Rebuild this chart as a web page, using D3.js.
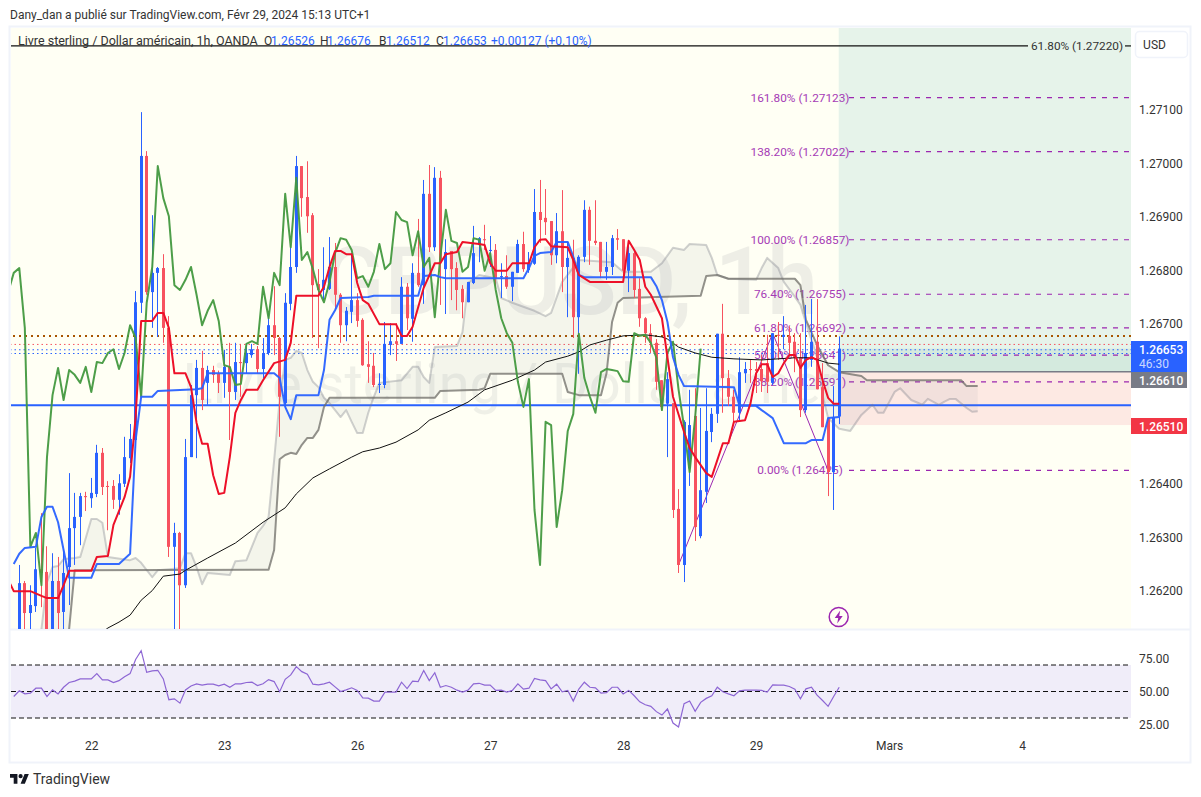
<!DOCTYPE html>
<html><head><meta charset="utf-8">
<style>html,body{margin:0;padding:0;background:#fff}svg{display:block}text{font-family:Roboto,"Open Sans",sans-serif}</style>
<script src="https://cdnjs.cloudflare.com/ajax/libs/d3/7.8.5/d3.min.js"></script>
</head><body><svg id="c" width="1201" height="797"></svg>
<script>
// All series are in points (0.00001) above 1.26000. First candle is bar -13; bar 0 is the 22nd at 00:00.
const firstBar=-13;
const opens=[100,214,158,171,240,235,100,218,160,244,
317,338,377,373,381,458,396,396,370,400,
448,482,739,1014,759,795,804,692,282,308,
210,450,566,617,589,613,606,589,619,572,
628,626,641,652,615,645,697,673,551,737,
806,995,937,903,774,763,765,806,754,697,
722,744,707,624,621,585,585,660,667,662,
769,709,795,772,943,843,973,802,836,804,
765,740,776,847,858,836,838,787,789,769,
795,849,800,812,909,898,892,828,873,806,
823,712,825,913,855,853,797,806,860,858,
799,832,765,710,682,664,594,550,551,353,
248,429,527,302,385,497,531,681,598,563,
533,607,615,615,615,626,589,679,675,677,
666,637,538,632,666,581,523,422,526];
const highs=[248,218,210,280,345,283,270,263,278,420,
383,383,385,411,473,467,405,407,418,488,
512,761,1096,1023,903,806,830,714,327,310,
484,585,632,649,621,621,612,651,664,664,
662,662,662,658,673,720,770,675,757,849,
1014,995,1004,907,802,843,862,851,757,731,
832,757,710,667,645,607,703,701,701,787,
776,813,896,969,997,993,986,858,836,815,
772,778,883,862,885,864,849,813,828,797,
857,872,834,952,969,952,892,907,950,853,
857,828,931,919,931,853,853,866,877,858,
855,834,785,712,699,671,594,609,551,390,
519,576,579,542,579,542,681,737,613,576,
637,628,632,628,641,679,682,703,714,695,
682,682,735,746,746,626,523,583,676];
const lows=[100,100,100,160,169,100,100,100,100,173,
248,285,349,355,375,379,313,353,342,394,
439,467,720,754,692,675,664,263,100,100,
205,450,448,538,548,589,570,561,482,557,
563,607,636,607,598,641,641,488,540,725,
795,900,870,673,654,744,763,725,664,667,
701,694,621,589,581,570,579,641,630,662,
688,666,769,737,834,836,735,718,744,725,
710,740,774,815,838,806,767,748,765,742,
795,797,795,810,851,866,810,813,759,712,
673,606,815,810,847,785,782,791,838,782,
759,748,694,664,645,576,538,450,336,233,
216,396,293,298,364,478,514,533,546,516,
519,589,589,570,572,570,585,632,652,639,
609,525,533,619,577,506,377,351,512];
const closes=[214,158,173,240,233,100,218,158,233,317,
338,377,375,383,458,394,394,370,401,450,
484,740,1014,759,795,804,692,282,308,210,
450,566,617,557,613,604,589,619,572,628,
626,645,652,615,645,697,673,563,739,806,
995,935,901,772,763,782,806,754,697,724,
744,705,622,619,585,587,662,667,662,769,
710,795,772,943,843,973,819,834,802,763,
740,778,832,860,857,838,785,789,769,797,
849,802,813,909,894,890,828,873,806,823,
712,825,913,855,851,797,806,860,857,799,
832,763,710,682,664,591,544,596,351,248,
516,510,319,388,499,531,681,598,563,533,
609,615,613,611,592,591,682,677,679,664,
636,538,645,666,577,506,422,525,653];
const chikouShift=25;

const redBars=[-15,-14,-11,-9,-8,-6,-5,-4,0,1,3,4,6,7,8,9,11,12,13,14,15,17,18,19,20,21,22,23,24,25,26,27,28,30,31,33,35,36,37,41,42,43,44,45,46,47,48,49,50,52,55,56,57,58,60,62,63,64,66,67,70,71,72,73,75,76,79,80,81,82,83,86,87,88,90,96,97,98,99,100,101,103,105,107,108,109,111,112,114,115,116,118,119,120,121,122,123,124,125,126,127,128,129,130,131,132,133,134,135];
const redPts=[220,199,199,190,186,186,210,237,237,263,265,323,375,413,525,705,705,720,720,692,607,607,581,514,475,475,416,381,383,450,533,557,576,576,594,626,632,664,752,752,769,806,836,836,830,830,776,744,737,699,699,677,677,694,767,813,813,830,834,853,849,847,813,799,799,813,813,843,857,858,845,843,819,791,778,778,855,838,819,769,754,710,563,497,467,450,420,413,476,476,516,519,551,607,624,624,600,607,626,641,641,617,632,637,632,594,561,550,550];
const blueBars=[-14,-13,-12,-10,-9,-8,-7,-6,-5,-4,0,1,5,7,8,9,11,12,19,20,21,33,34,35,36,37,41,42,43,44,45,50,51,59,60,62,63,64,78,79,80,81,83,84,86,87,88,89,101,102,103,104,105,106,107,116,117,120,121,123,125,129,130,132,133,135];
const bluePts=[250,269,280,282,338,357,357,328,276,224,224,250,250,269,482,563,563,574,577,579,607,607,598,544,521,566,566,613,707,725,748,750,752,752,789,791,787,785,785,804,827,832,834,853,853,825,791,787,787,770,744,703,637,604,583,581,546,546,538,523,476,476,482,482,523,525];
const spanABars=[-9,-8,-7,-6,-5,-3,-2,0,1,2,3,7,8,9,11,12,16,17,18,19,20,21,25,26,28,30,31,32,33,34,35,36,37,38,39,40,41,42,43,44,45,46,47,48,49,50,51,52,56,58,59,60,61,62,66,67,68,70,73,74,76,80,82,83,85,88,94,96,101,103,105,107,108,111,112,113,115,120,121,122,124,125,127,128,129,131,132,133,135,137,139,141,142,143,145,146,148,150,151,153,154,155,156,158,159,160];
const spanAPts=[128,216,244,246,259,261,263,334,334,327,263,257,261,252,225,238,242,270,270,244,212,233,229,255,257,308,321,338,444,557,632,636,649,645,613,591,581,561,551,538,525,538,516,495,495,533,563,589,594,619,619,600,589,656,658,684,776,791,785,748,739,724,714,720,778,819,815,797,797,813,842,838,849,847,823,791,784,782,804,823,804,778,750,735,701,637,566,523,503,499,529,548,533,533,572,579,557,548,559,548,554,559,559,542,535,536];
const spanBBars=[-5,-4,-3,32,33,34,35,36,37,38,39,40,41,42,43,62,63,70,71,72,85,86,88,92,93,94,95,96,110,111,113,115,127,128,129,131,133,135,139,140,157,158,160];
const spanBPts=[100,128,238,239,276,446,454,458,456,473,486,486,501,544,561,561,574,576,579,606,606,572,566,566,607,703,739,748,752,789,791,784,784,772,707,660,622,609,602,594,594,583,583];
const emaBars=[2,3,5,7,9,11,13,16,17,21,26,31,35,37,40,43,47,49,52,55,59,61,64,68,71,76,80,82,86,88,90,93,96,100,103,104,106,109,112,116,121,127,130,133,135];
const emaPts=[122,130,141,154,182,200,227,231,238,261,289,328,355,381,411,428,450,460,467,478,501,519,533,553,576,594,613,628,639,647,660,669,677,679,675,671,656,645,637,634,632,636,636,626,624];
const swingBars=[106,123,133];
const swingPts=[248,682,425];

const rsiFirstBar=-14;
const rsiValues=[46.2,50.5,48.2,48.8,52.5,52.5,46.2,51.2,48.2,53.2,56.8,57.8,59.5,59.5,59.5,63.5,58.8,58.8,56.8,58.2,61.2,63.5,74.2,80.8,64.5,65.5,66,59.5,43.8,44.5,41.2,51.2,54.2,55.8,54.8,55.5,55.5,54.2,55.5,53.2,55.8,55.8,56.8,57,54.5,55.8,59,57.5,49.8,59.2,62.5,68.8,65,63,55.5,55,55.8,57,53.5,50,51.2,52.8,50.8,45.2,45,42.8,42.8,49.5,49.5,49.5,57,52.2,57.8,57.5,65.8,58.2,64.2,53.2,54.5,53.2,51,49.5,51,55.8,56.2,54.8,54.8,50.8,51,49.5,50.8,55.8,51.8,52.5,59.8,58.8,58.2,52,55.5,49.8,50.8,42.8,51.8,57,53.2,52.8,48.8,49.2,53.2,53.2,48.2,50.8,46.8,42.2,40,38.8,34.8,32.2,36.8,26.2,23.2,40.8,42.8,35,41.8,44.8,46.8,53.2,49.8,48.2,46.8,50.5,51,51,51,50.8,49.5,55,54.8,54.8,53.8,51.8,44.5,52,53.2,47.2,43.2,38.8,46.2,53.2];
const rsiLevels=[70,50,30];
const rsiTicks=[75,50,25];

const priceTicks=[1.271,1.27,1.269,1.268,1.267,1.264,1.263,1.262];
const dayBars=[0,24,48,72,96,120,144,168];
const dayLabels=["22","23","26","27","28","29","Mars","4"];
const fibNames=["161.80%","138.20%","100.00%","76.40%","61.80%","50.00%","38.20%","0.00%"];
const fibPrices=[1.27123,1.27022,1.26857,1.26755,1.26692,1.26641,1.26591,1.26425];
const topFibName="61.80%", topFibPrice=1.2722;
const entryPrice=1.2661, stopPrice=1.2651, lastPrice=1.26653;
const dottedPrices=[1.26661,1.26651,1.26644];
const brownPrice=1.26677, bluePrice=1.26547;
const titleParts=[["Livre sterling / Dollar américain, 1h, OANDA",0],["O",0],["1.26526",1],["H",0],["1.26676",1],["B",0],["1.26512",1],["C",0],["1.26653",1],["+0.00127 (+0.10%)",1]];

const BLUE="#2962ff",CRED="#f7525f",PURPLE="#9c27b0";
const L=10,R=1131,T=27,B=629;
const svg=d3.select("#c");
const x=d3.scaleLinear().domain([0,1]).range([91.3,96.84]);
const y=d3.scaleLinear().domain([1.271,1.262]).range([110,590.6]);
const yp=v=>y(1.26+v/1e5);
const yr=d3.scaleLinear().domain([50,70]).range([691.5,665]);

// frame and panes
svg.append("rect").attr("x",9.5).attr("y",26.5).attr("width",1181).attr("height",736).attr("fill","#fff").attr("stroke","#f0f3fa").attr("stroke-width",2);
svg.append("rect").attr("x",L+1).attr("y",T+1).attr("width",R-L-1).attr("height",B-T-1).attr("fill","#fffff4");
svg.append("line").attr("x1",10).attr("x2",1190).attr("y1",629.5).attr("y2",629.5).attr("stroke","#f0f3fa").attr("stroke-width",2);
svg.append("defs").append("clipPath").attr("id","cp").append("rect").attr("x",L+1).attr("y",T+1).attr("width",R-L-1).attr("height",B-T-1);
const g=svg.append("g").attr("clip-path","url(#cp)");

// watermark
g.append("text").attr("x",570).attr("y",314).attr("text-anchor","middle").attr("font-size",94).attr("font-weight",500).attr("textLength",496).attr("lengthAdjust","spacingAndGlyphs").attr("fill","#787b86").attr("opacity",.12).text("GBPUSD, 1h");
g.append("text").attr("x",570).attr("y",403).attr("text-anchor","middle").attr("font-size",56).attr("fill","#787b86").attr("opacity",.11).text("Livre sterling / Dollar américain");

// position tool
const px=x(135)-.5;
g.append("rect").attr("x",px).attr("y",T).attr("width",R-px).attr("height",y(entryPrice)-T).attr("fill","#e6f3ea");
g.append("rect").attr("x",px).attr("y",y(lastPrice)).attr("width",R-px).attr("height",y(entryPrice)-y(lastPrice)).attr("fill","#d4eade");
g.append("rect").attr("x",px).attr("y",y(entryPrice)).attr("width",R-px).attr("height",y(stopPrice)-y(entryPrice)).attr("fill","#fde9e3");
g.append("line").attr("x1",px).attr("x2",R).attr("y1",y(entryPrice)).attr("y2",y(entryPrice)).attr("stroke","#787b86").attr("stroke-width",1.5);

// fibonacci levels
fibNames.forEach((n,i)=>{
  const yy=y(fibPrices[i]);
  g.append("line").attr("x1",849).attr("x2",R).attr("y1",yy).attr("y2",yy).attr("stroke",PURPLE).attr("stroke-width",1.2).attr("stroke-dasharray","5,6");
  g.append("text").attr("x",800).attr("y",yy+4).attr("text-anchor","middle").attr("font-size",11.8).attr("fill",PURPLE).attr("opacity",.9).text(`${n} (${fibPrices[i].toFixed(5)})`);
});
const ty=y(topFibPrice);
g.append("line").attr("x1",L).attr("x2",1028).attr("y1",ty).attr("y2",ty).attr("stroke","#111").attr("stroke-width",1.2);
g.append("line").attr("x1",1125).attr("x2",R).attr("y1",ty).attr("y2",ty).attr("stroke","#111").attr("stroke-width",1.2);
g.append("text").attr("x",1077).attr("y",ty+4).attr("text-anchor","middle").attr("font-size",11.8).attr("fill","#333").text(`${topFibName} (${topFibPrice.toFixed(5)})`);

// horizontal levels
g.append("line").attr("x1",13).attr("x2",R).attr("y1",y(brownPrice)).attr("y2",y(brownPrice)).attr("stroke","#a85400").attr("stroke-width",2).attr("stroke-dasharray","2,4");
dottedPrices.forEach((p,i)=>g.append("line").attr("x1",L).attr("x2",R).attr("y1",y(p)).attr("y2",y(p)).attr("stroke",i?BLUE:"#f7525f").attr("stroke-width",1).attr("stroke-dasharray","1.5,3"));
g.append("line").attr("x1",L).attr("x2",R).attr("y1",y(bluePrice)).attr("y2",y(bluePrice)).attr("stroke",BLUE).attr("stroke-width",2);

// cloud
const pathOf=(bars,pts)=>bars.map((b,i)=>[x(b),yp(pts[i])]);
const lineGen=d3.line();
const aP=pathOf(spanABars,spanAPts), bP=pathOf(spanBBars,spanBPts);
g.append("path").attr("d",lineGen(aP.concat(bP.slice().reverse()))+"Z").attr("fill","#787b86").attr("fill-opacity",.08);
g.append("path").attr("d",lineGen(aP)).attr("fill","none").attr("stroke","#787b86").attr("stroke-width",2).attr("stroke-opacity",.35).attr("stroke-linejoin","round");
g.append("path").attr("d",lineGen(bP)).attr("fill","none").attr("stroke","#6f6e68").attr("stroke-width",2).attr("stroke-opacity",.75).attr("stroke-linejoin","round");

// swing line
g.append("path").attr("d",lineGen(pathOf(swingBars,swingPts))).attr("fill","none").attr("stroke",PURPLE).attr("stroke-width",1);

// candles
const bars=d3.range(opens.length);
const xc=i=>Math.round(x(i+firstBar)-.5)+.5;
const col=i=>closes[i]>=opens[i]?BLUE:CRED;
g.selectAll(".w").data(bars).join("line").attr("x1",xc).attr("x2",xc).attr("y1",i=>yp(highs[i])).attr("y2",i=>yp(lows[i])).attr("stroke",col).attr("stroke-width",1);
g.selectAll(".b").data(bars).join("rect").attr("x",i=>xc(i)-1.5).attr("width",3).attr("y",i=>yp(Math.max(opens[i],closes[i]))).attr("height",i=>Math.max(1,Math.abs(yp(opens[i])-yp(closes[i])))).attr("fill",col);

// indicator lines
const greenP=closes.map((c,i)=>[x(i+firstBar-chikouShift),yp(c)]).filter(d=>d[0]>=0);
const plot=(p,c,w,o)=>g.append("path").attr("d",lineGen(p)).attr("fill","none").attr("stroke",c).attr("stroke-width",w).attr("stroke-opacity",o).attr("stroke-linejoin","round");
plot(pathOf(emaBars,emaPts),"#111",1,1);
plot(greenP,"#43993f",2,.95);
plot(pathOf(blueBars,bluePts),BLUE,2,.95);
plot(pathOf(redBars,redPts),"#ed1028",2,1);

// event icon
const ic=g.append("g").attr("transform",`translate(${x(135)-.5},617)`);
ic.append("circle").attr("r",9.5).attr("fill","#fffff4").attr("stroke",PURPLE).attr("stroke-width",1.5);
ic.append("path").attr("d","M1.5,-6.5 L-4,1 L-0.5,1 L-1.5,6.5 L4,-1 L0.5,-1 Z").attr("fill",PURPLE);

// title
const tx=[18,264,271,320,327,379,386,436,443,491];
titleParts.forEach((p,i)=>svg.append("text").attr("x",tx[i]).attr("y",45).attr("font-size",i?12:12.5).attr("fill",p[1]?BLUE:"#333").text(p[0]));
svg.append("text").attr("x",10).attr("y",19).attr("font-size",12).attr("fill","#333").text("Dany_dan a publié sur TradingView.com, Févr 29, 2024 15:13 UTC+1");

// price axis
const ax=svg.append("g").attr("transform",`translate(${R},0)`).call(d3.axisRight(y).tickValues(priceTicks).tickFormat(d3.format(".5f")).tickSize(0).tickPadding(8));
ax.select(".domain").remove();
ax.selectAll("text").attr("font-size",12).attr("fill","#333").style("font-family","Roboto");
svg.append("rect").attr("x",1135.5).attr("y",31.5).attr("width",52).attr("height",26).attr("rx",4).attr("fill","#fff").attr("stroke","#f0f3fa").attr("stroke-width",1.5);
svg.append("text").attr("x",1154.5).attr("y",49).attr("text-anchor","middle").attr("font-size",12).attr("fill","#333").text("USD");

// price tags
const tag=(y0,h,c,t,t2)=>{
  svg.append("rect").attr("x",R).attr("y",y0).attr("width",56).attr("height",h).attr("fill",c);
  svg.append("text").attr("x",1139).attr("y",y0+12.5).attr("font-size",12).attr("font-weight",500).attr("fill","#fff").text(t);
  if(t2)svg.append("text").attr("x",1139).attr("y",y0+27).attr("font-size",12).attr("fill","#fff").attr("opacity",.75).text(t2);
};
tag(341,31,BLUE,lastPrice.toFixed(5),"46:30");
tag(372,16,"#787b86",entryPrice.toFixed(5));
tag(418,16,"#f23645",stopPrice.toFixed(5));

// RSI pane
svg.append("rect").attr("x",L+1).attr("y",yr(70)).attr("width",R-L-1).attr("height",yr(30)-yr(70)).attr("fill","#f0edf9");
rsiLevels.forEach(l=>svg.append("line").attr("x1",L+1).attr("x2",R).attr("y1",yr(l)).attr("y2",yr(l)).attr("stroke","#111").attr("stroke-width",1).attr("stroke-dasharray","5,3"));
svg.append("path").attr("d",lineGen(rsiValues.map((v,i)=>[x(i+rsiFirstBar),yr(v)]))).attr("fill","none").attr("stroke","#8d66d4").attr("stroke-width",1.2);
const ar=svg.append("g").attr("transform",`translate(${R},0)`).call(d3.axisRight(yr).tickValues(rsiTicks).tickFormat(d3.format(".2f")).tickSize(0).tickPadding(8));
ar.select(".domain").remove();
ar.selectAll("text").attr("font-size",12).attr("fill","#333").style("font-family","Roboto");

// time axis
const at=svg.append("g").attr("transform","translate(0,738)").call(d3.axisBottom(x).tickValues(dayBars).tickFormat((d,i)=>dayLabels[i]).tickSize(0).tickPadding(3));
at.select(".domain").remove();
at.selectAll("text").attr("font-size",12).attr("fill","#333").style("font-family","Roboto");

// footer logo
svg.append("path").attr("transform","translate(10,772) scale(.53)").attr("d","M14 22H7V11H0V4h14v18zM28 22h-8l7.5-18h8L28 22zM20 4a4 4 0 1 1 0 8a4 4 0 0 1 0-8z").attr("fill","#131722");
svg.append("text").attr("x",33).attr("y",784).attr("font-size",14).attr("fill","#333").text("TradingView");
</script></body></html>
